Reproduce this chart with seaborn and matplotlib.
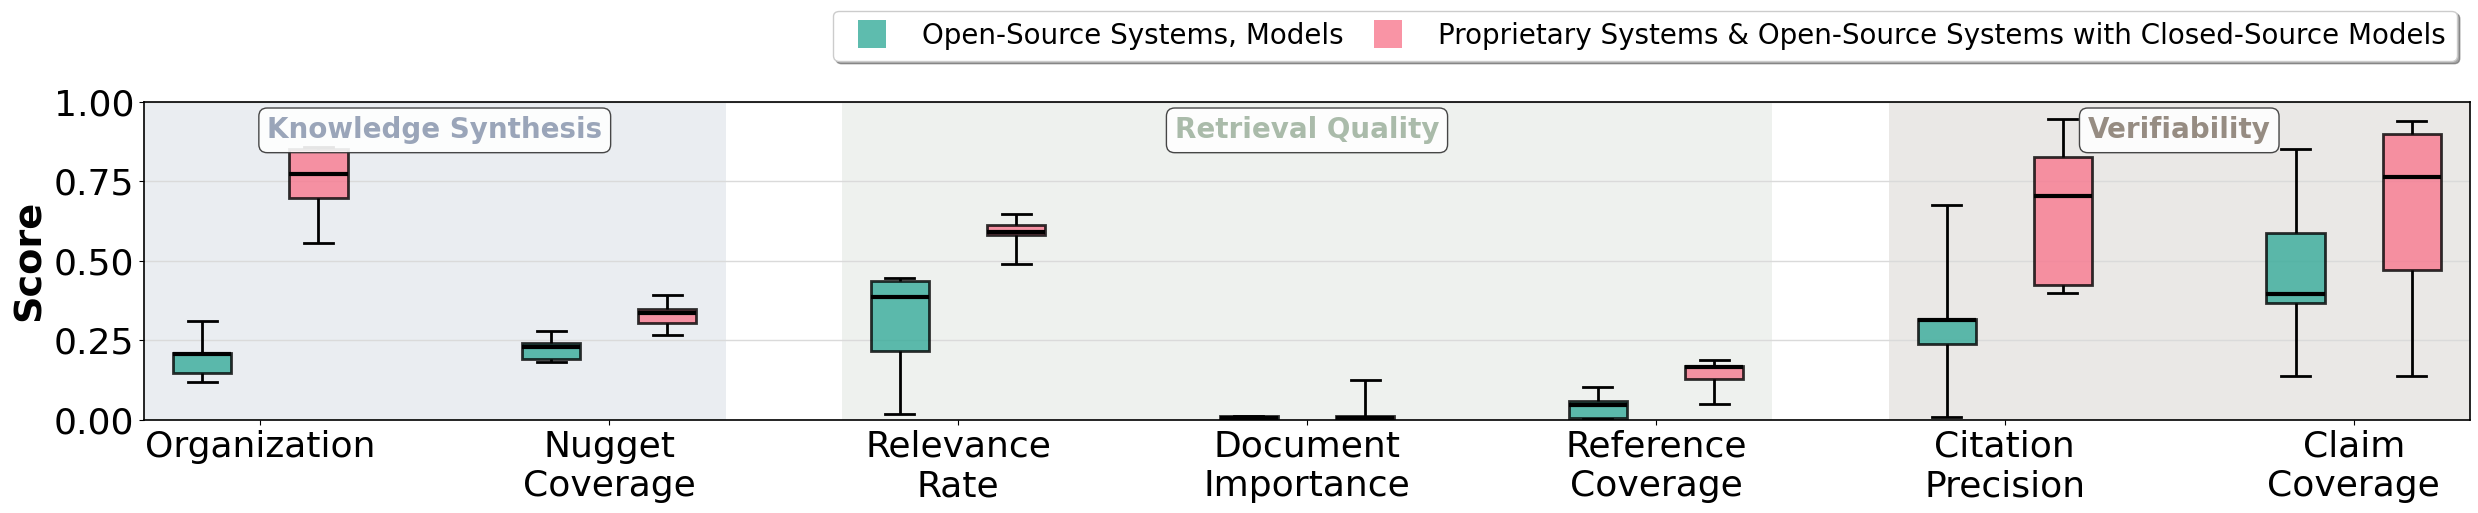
import numpy as np
import pandas as pd
import seaborn as sns
import matplotlib
matplotlib.use("Agg")
import matplotlib.pyplot as plt
from matplotlib.lines import Line2D

# ───── data (five-number summaries) ────────────────────────────────────────
metrics = ["Organization", "Nugget\nCoverage", "Relevance\nRate",
           "Document\nImportance", "Reference\nCoverage",
           "Citation\nPrecision", "Claim\nCoverage"]

groups = ["Open-Source Systems, Models",
          "Proprietary Systems & Open-Source Systems with Closed-Source Models"]

# open-source systems
open_lo  = [0.118, 0.181, 0.019, 0.000, 0.004, 0.008, 0.138]
open_q1  = [0.149, 0.193, 0.217, 0.002, 0.007, 0.238, 0.369]
open_med = [0.207, 0.230, 0.387, 0.006, 0.047, 0.315, 0.396]
open_q3  = [0.212, 0.243, 0.438, 0.012, 0.061, 0.317, 0.586]
open_hi  = [0.310, 0.280, 0.445, 0.013, 0.103, 0.674, 0.850]

# proprietary / closed-source models
prop_lo  = [0.555, 0.266, 0.489, 0.000, 0.050, 0.398, 0.138]
prop_q1  = [0.699, 0.306, 0.582, 0.002, 0.128, 0.425, 0.470]
prop_med = [0.774, 0.335, 0.591, 0.006, 0.166, 0.705, 0.763]
prop_q3  = [0.850, 0.350, 0.614, 0.012, 0.171, 0.825, 0.897]
prop_hi  = [0.857, 0.392, 0.646, 0.125, 0.188, 0.945, 0.938]

sections = ["Knowledge Synthesis", "Retrieval Quality", "Verifiability"]
section_span = [(0, 1), (2, 4), (5, 6)]   # first / last metric index
section_col = ["#9AA5B9", "#AABBAA", "#968C82"]

pal = ["#36AB9A", "#F8798F"]

# build long table: five values per box reproduce min/q1/median/q3/max
rows = []
for g, stats in zip(groups, [(open_lo, open_q1, open_med, open_q3, open_hi),
                             (prop_lo, prop_q1, prop_med, prop_q3, prop_hi)]):
    for i, m in enumerate(metrics):
        for s in stats:
            rows.append({"Metric": m, "Group": g, "Score": s[i]})
df = pd.DataFrame(rows)

# ───── plot ─────────────────────────────────────────────────────────────────
fig = plt.figure(figsize=(24.78, 5.13), dpi=100)
ax = fig.add_axes([144/2478, 1 - 420/513, 2326/2478, 318.3/513])

for (a, b), c in zip(section_span, section_col):
    ax.axvspan(a - 1/3, b + 1/3, color=c, alpha=0.2, lw=0, zorder=0)

sns.boxplot(data=df, x="Metric", y="Score", hue="Group",
            order=metrics, hue_order=groups, palette=pal,
            whis=(0, 100), width=2/3, gap=0.5, saturation=1,
            linecolor="black", linewidth=2, legend=False, ax=ax,
            boxprops=dict(alpha=0.8),
            medianprops=dict(color="black", linewidth=3),
            whiskerprops=dict(color="black", linewidth=2),
            capprops=dict(color="black", linewidth=2))

ax.set_axisbelow(True)
ax.grid(axis="y", color="#DADADA", linewidth=1, zorder=0.5)
ax.set_xlim(-1/3, len(metrics) - 1 + 1/3)
ax.set_ylim(0, 1)
ax.set_yticks([0, 0.25, 0.5, 0.75, 1.0])
ax.set_yticklabels([f"{v:.2f}" for v in [0, 0.25, 0.5, 0.75, 1.0]])
ax.tick_params(axis="both", labelsize=26)
ax.set_xlabel("")
ax.set_ylabel("Score", fontsize=27.5, fontweight="bold")
for sp in ax.spines.values():
    sp.set_color("black")
    sp.set_linewidth(1.2)

# section labels
for name, (a, b), c in zip(sections, section_span, section_col):
    ax.text((a + b) / 2, 0.91, name, ha="center", va="center",
            fontsize=20, fontweight="bold", color=c, zorder=10,
            bbox=dict(boxstyle="round,pad=0.3", facecolor="white",
                      edgecolor="#333333", alpha=0.9, linewidth=1))

handles = [Line2D([0], [0], marker="s", ls="", markersize=19.5,
                  markeredgewidth=0, color=c, alpha=0.8, label=g)
           for c, g in zip(pal, groups)]
fig.legend(handles=handles, loc="upper right", ncol=2,
           bbox_to_anchor=(2457/2478, 1 - 10.7/513), borderaxespad=0,
           fontsize=20, frameon=True, fancybox=True, shadow=True,
           columnspacing=0.6)

fig.savefig("out.png", dpi=100)
plt.close(fig)
